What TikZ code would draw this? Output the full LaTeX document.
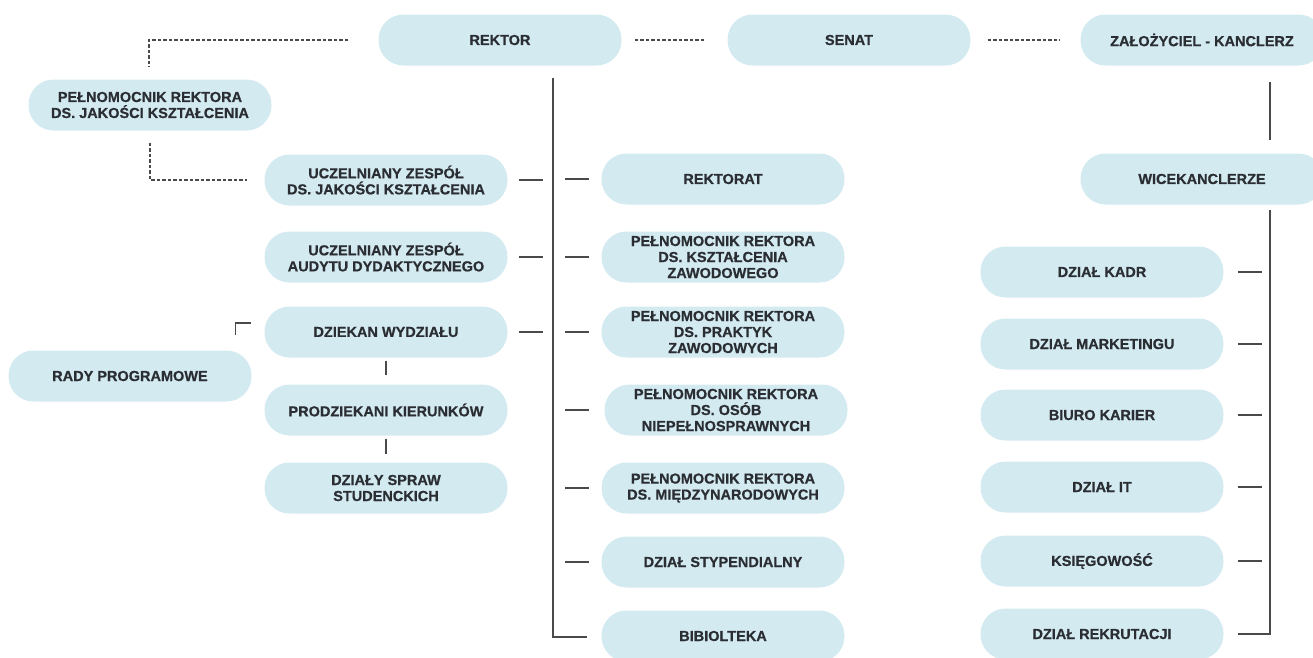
\documentclass[tikz,border=0pt]{standalone}
\usepackage{fontspec}
\setmainfont{Liberation Sans}[BoldFeatures={FakeBold=0.6}]
\usetikzlibrary{calc}
\definecolor{boxfill}{HTML}{D4EAF1}
\definecolor{txt}{HTML}{2A2E33}
\definecolor{ln}{HTML}{4A4A4A}
\tikzset{
  box/.style={fill=boxfill, draw=none, rounded corners=25pt, minimum width=243pt, minimum height=51pt,
    align=center, text=txt, font=\bfseries\fontsize{14.5}{16}\selectfont, inner sep=0pt},
  link/.style={draw=ln, line width=1.1pt},
  dlink/.style={draw=ln, line width=1.1pt, dash pattern=on 3.5pt off 2pt},
}
\begin{document}
\begin{tikzpicture}[x=1pt,y=-1pt]
\useasboundingbox (0,0) rectangle (1313,657);
% top row
\node[box] (rektor) at (500,40) {REKTOR};
\node[box] (senat) at (849,40) {SENAT};
\node[box] (zal) at (1202,40) {ZAŁOŻYCIEL - KANCLERZ};
\node[box] (pjk) at (150,105) {PEŁNOMOCNIK REKTORA\\DS. JAKOŚCI KSZTAŁCENIA};
% left column
\node[box] (uzj) at (386,180) {UCZELNIANY ZESPÓŁ\\DS. JAKOŚCI KSZTAŁCENIA};
\node[box] (uza) at (386,257) {UCZELNIANY ZESPÓŁ\\AUDYTU DYDAKTYCZNEGO};
\node[box] (dziekan) at (386,332) {DZIEKAN WYDZIAŁU};
\node[box] (prodz) at (386,410) {PRODZIEKANI KIERUNKÓW};
\node[box] (dss) at (386,488) {DZIAŁY SPRAW\\STUDENCKICH};
\node[box] (rady) at (130,376) {RADY PROGRAMOWE};
% middle column
\node[box] (rektorat) at (723,179) {REKTORAT};
\node[box] (pkz) at (723,257) {PEŁNOMOCNIK REKTORA\\DS. KSZTAŁCENIA\\ZAWODOWEGO};
\node[box] (ppz) at (723,332) {PEŁNOMOCNIK REKTORA\\DS. PRAKTYK\\ZAWODOWYCH};
\node[box] (pos) at (726,410) {PEŁNOMOCNIK REKTORA\\DS. OSÓB\\NIEPEŁNOSPRAWNYCH};
\node[box] (pmd) at (723,488) {PEŁNOMOCNIK REKTORA\\DS. MIĘDZYNARODOWYCH};
\node[box] (dst) at (723,562) {DZIAŁ STYPENDIALNY};
\node[box] (bib) at (723,636) {BIBIOLTEKA};
% right column
\node[box] (wice) at (1202,179) {WICEKANCLERZE};
\node[box] (kadr) at (1102,272) {DZIAŁ KADR};
\node[box] (mark) at (1102,344) {DZIAŁ MARKETINGU};
\node[box] (biuro) at (1102,415) {BIURO KARIER};
\node[box] (it) at (1102,487) {DZIAŁ IT};
\node[box] (ksieg) at (1102,561) {KSIĘGOWOŚĆ};
\node[box] (rekr) at (1102,634) {DZIAŁ REKRUTACJI};
% dashed links
\draw[dlink] ($(rektor.west)+(-30,0)$) -| ($(pjk.north)+(-1,-12)$);
\draw[dlink] ($(pjk.south)+(0,12)$) |- ($(uzj.west)+(-17,0)$);
\draw[dlink] ($(rektor.east)+(13,0)$) -- ($(senat.west)+(-22,0)$);
\draw[dlink] ($(senat.east)+(17,0)$) -- ($(zal.west)+(-20,0)$);
% spine
\coordinate (spinetop) at ($(rektor.south)+(53,12)$);
\draw[link] (spinetop) |- ($(bib.west)+(-14,1)$);
\foreach \n in {uzj,uza,dziekan}{
  \draw[link] ($(\n.east)+(11,0)$) -- ++(24,0);
}
\foreach \n in {rektorat,pkz,ppz,pmd,dst}{
  \draw[link] ($(\n.west)+(-36,0)$) -- ++(24,0);
}
\draw[link] ($(pos.west)+(-39,0)$) -- ++(24,0);
% dean links
\draw[link] ($(dziekan.south)+(0,3)$) -- ($(prodz.north)+(0,-9)$);
\draw[link] ($(prodz.south)+(0,3)$) -- ($(dss.north)+(0,-8)$);
\draw[link] ($(rady.north east)+(-16,-15)$) |- ($(dziekan.west)+(-13,-9)$);
% chancellor side
\draw[link] ($(zal.south)+(68,16)$) -- ($(wice.north)+(68,-13)$);
\draw[link] ($(wice.south)+(68,5)$) |- ($(rekr.east)+(14,0)$);
\foreach \n in {kadr,mark,biuro,it,ksieg}{
  \draw[link] ($(\n.east)+(14,0)$) -- ++(24,0);
}
\end{tikzpicture}
\end{document}
